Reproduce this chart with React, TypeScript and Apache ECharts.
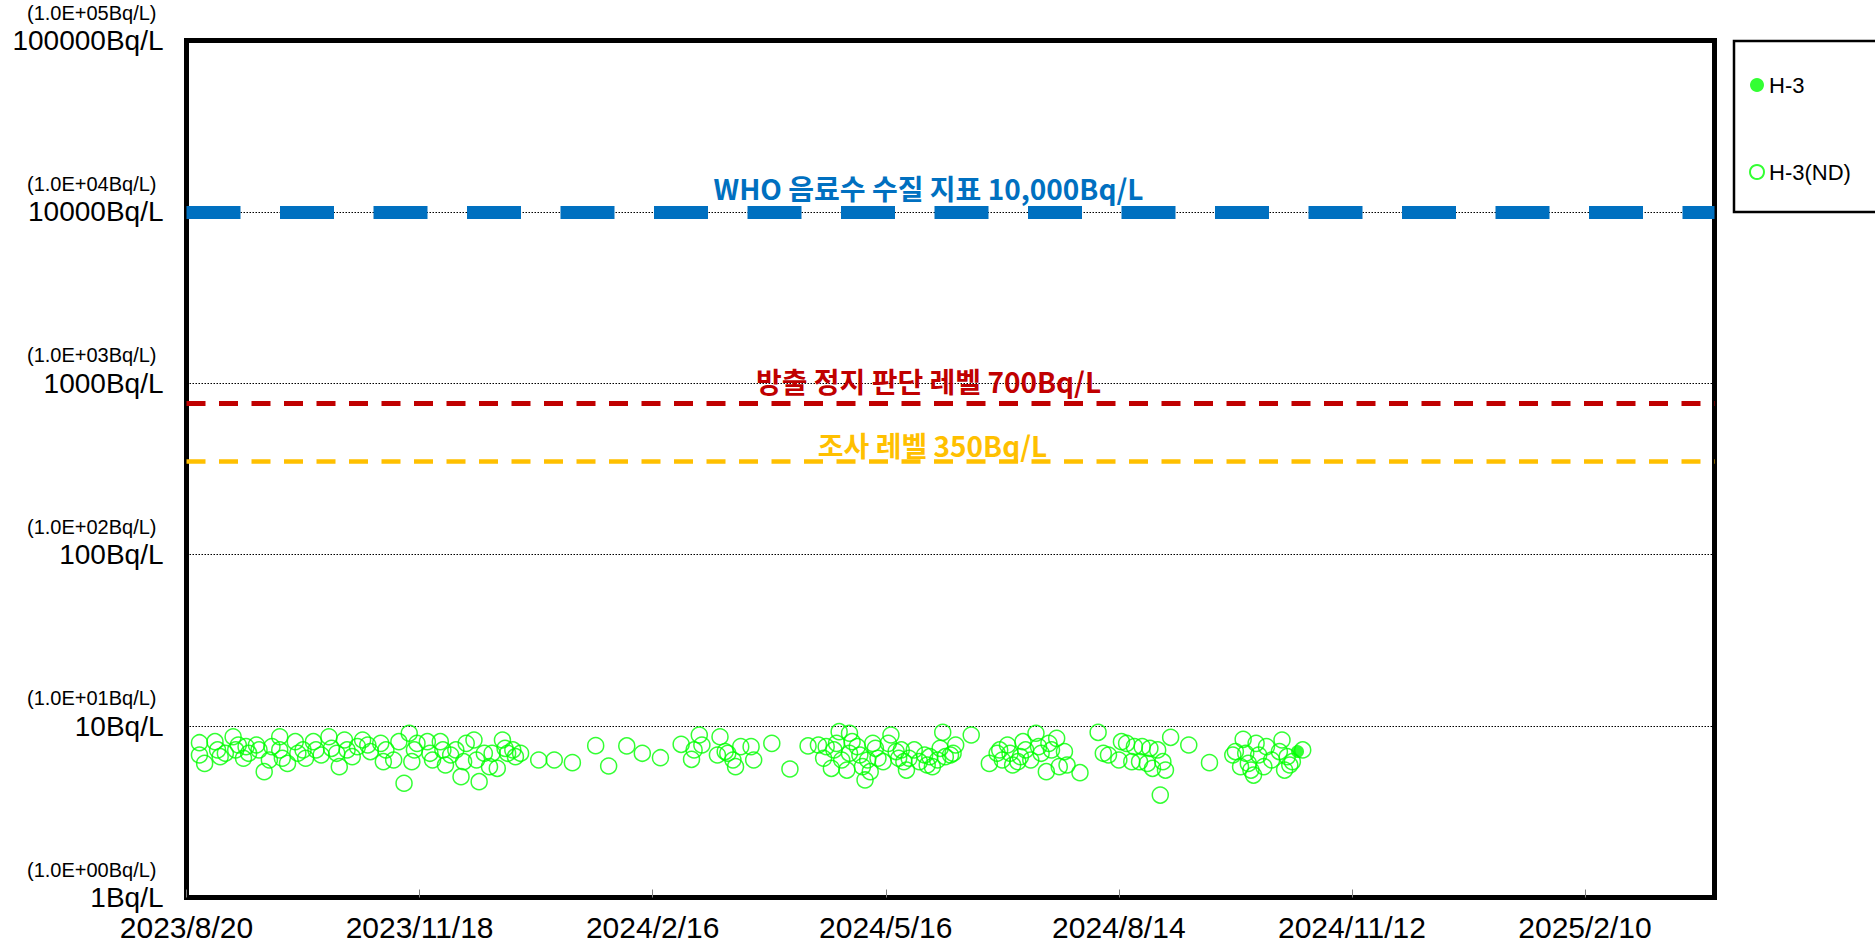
import React, { useEffect, useRef } from 'react';
import * as echarts from 'echarts';

// ---------- data ----------
const START_DATE = '2023-08-20';
const X_MAX_DAYS = 590;
const X_INTERVAL_DAYS = 90;

const yTickValues = [1, 10, 100, 1000, 10000, 100000];
const yTickMain = ['1Bq/L', '10Bq/L', '100Bq/L', '1000Bq/L', '10000Bq/L', '100000Bq/L'];
const yTickExp = ['(1.0E+00Bq/L)', '(1.0E+01Bq/L)', '(1.0E+02Bq/L)', '(1.0E+03Bq/L)', '(1.0E+04Bq/L)', '(1.0E+05Bq/L)'];

const seriesNames = ['H-3', 'H-3(ND)'];

// detected value (filled marker)
const h3Dates = ['2024-10-22'];
const h3Values = [7.1];

// not detected (hollow markers, detection limit)
const ndDates = [
  '2023-08-25', '2023-08-25', '2023-08-27', '2023-08-31', '2023-09-01', '2023-09-02', '2023-09-04', '2023-09-07',
  '2023-09-08', '2023-09-09', '2023-09-11', '2023-09-12', '2023-09-13', '2023-09-16', '2023-09-17', '2023-09-19',
  '2023-09-21', '2023-09-22', '2023-09-25', '2023-09-25', '2023-09-26', '2023-09-28', '2023-10-01', '2023-10-02',
  '2023-10-04', '2023-10-05', '2023-10-08', '2023-10-09', '2023-10-11', '2023-10-14', '2023-10-15', '2023-10-17',
  '2023-10-18', '2023-10-20', '2023-10-21', '2023-10-23', '2023-10-25', '2023-10-27', '2023-10-29', '2023-10-30',
  '2023-11-03', '2023-11-04', '2023-11-05', '2023-11-08', '2023-11-10', '2023-11-12', '2023-11-14', '2023-11-16',
  '2023-11-15', '2023-11-17', '2023-11-21', '2023-11-22', '2023-11-23', '2023-11-26', '2023-11-27', '2023-11-28',
  '2023-11-30', '2023-12-02', '2023-12-04', '2023-12-05', '2023-12-06', '2023-12-09', '2023-12-10', '2023-12-11',
  '2023-12-13', '2023-12-15', '2023-12-16', '2023-12-18', '2023-12-20', '2023-12-21', '2023-12-22', '2023-12-24',
  '2023-12-25', '2023-12-27', '2024-01-03', '2024-01-09', '2024-01-16',
  '2024-01-25', '2024-01-30', '2024-02-06', '2024-02-12', '2024-02-19', '2024-02-27', '2024-03-02', '2024-03-05',
  '2024-03-03', '2024-03-06', '2024-03-13', '2024-03-12', '2024-03-15', '2024-03-16', '2024-03-18', '2024-03-19',
  '2024-03-21', '2024-03-25', '2024-03-26', '2024-04-02', '2024-04-09', '2024-04-16', '2024-04-20', '2024-04-22',
  '2024-04-23', '2024-04-25', '2024-04-26', '2024-04-28', '2024-04-27', '2024-04-29', '2024-05-01', '2024-05-02',
  '2024-05-02', '2024-05-03', '2024-05-05', '2024-05-06', '2024-05-07', '2024-05-08', '2024-05-09', '2024-05-10',
  '2024-05-11', '2024-05-12', '2024-05-13', '2024-05-15', '2024-05-18', '2024-05-17', '2024-05-20', '2024-05-21',
  '2024-05-22', '2024-05-23', '2024-05-24', '2024-05-25', '2024-05-27', '2024-05-29', '2024-05-31', '2024-06-01',
  '2024-06-02', '2024-06-03', '2024-06-05', '2024-06-06', '2024-06-07', '2024-06-08', '2024-06-10', '2024-06-11',
  '2024-06-12', '2024-06-18', '2024-06-25', '2024-06-28',
  '2024-06-29', '2024-06-30', '2024-07-02', '2024-07-03', '2024-07-04', '2024-07-06', '2024-07-07', '2024-07-08',
  '2024-07-09', '2024-07-11', '2024-07-13', '2024-07-14', '2024-07-15', '2024-07-17', '2024-07-18', '2024-07-19',
  '2024-07-21', '2024-07-22', '2024-07-24', '2024-07-25', '2024-07-30', '2024-08-06', '2024-08-08', '2024-08-10',
  '2024-08-14', '2024-08-15', '2024-08-17', '2024-08-19', '2024-08-20', '2024-08-22', '2024-08-23', '2024-08-25',
  '2024-08-26', '2024-08-27', '2024-08-29', '2024-08-30', '2024-08-31', '2024-09-01', '2024-09-03', '2024-09-10',
  '2024-09-18', '2024-09-27', '2024-09-28', '2024-09-30', '2024-10-01', '2024-10-02', '2024-10-03', '2024-10-04',
  '2024-10-05', '2024-10-06', '2024-10-07', '2024-10-09', '2024-10-10', '2024-10-12', '2024-10-15', '2024-10-16',
  '2024-10-17', '2024-10-18', '2024-10-19', '2024-10-20', '2024-10-24',
];
const ndValues = [
  8.0, 6.78, 6.06, 8.11, 7.26, 6.63, 6.94, 8.67,
  7.26, 7.76, 6.49, 7.59, 6.94, 7.76, 7.26, 5.42,
  6.34, 7.59, 8.67, 7.26, 6.49, 6.06, 8.11, 6.94,
  7.26, 6.49, 8.11, 7.26, 6.78, 8.67, 7.42, 6.94,
  5.8, 8.3, 7.26, 6.63, 7.59, 8.3, 7.76, 7.1,
  7.93, 6.2, 7.26, 6.34, 8.11, 4.64, 9.08, 7.26,
  6.2, 7.93, 8.11, 6.94, 6.34, 8.11, 7.26, 5.93,
  6.78, 7.26, 5.07, 6.2, 7.93, 8.3, 6.34, 4.74,
  6.94, 5.8, 6.94, 5.67, 8.3, 7.42, 6.94, 7.26,
  6.63, 6.94, 6.34, 6.34, 6.12,
  7.69, 5.85, 7.66, 6.94, 6.54, 7.83, 6.4, 8.87,
  7.26, 7.76, 8.67, 6.78, 7.1, 6.94, 6.34, 5.8,
  7.59, 7.59, 6.34, 7.93, 5.62, 7.66, 7.76, 6.49,
  7.59, 5.67, 7.26, 9.28, 7.93, 6.34, 5.54, 9.08,
  6.94, 8.11, 7.59, 6.78, 5.8, 4.85, 6.34, 5.42,
  7.93, 7.42, 6.49, 6.2, 8.87, 7.93, 7.1, 6.49,
  7.26, 6.2, 5.54, 6.49, 7.26, 6.2, 6.78, 5.93,
  6.63, 5.8, 6.34, 7.42, 9.2, 6.63, 6.78, 6.94,
  7.76, 8.87, 6.06, 6.94,
  7.26, 6.34, 7.76, 6.94, 5.93, 6.2, 6.63, 8.11,
  7.26, 6.34, 9.08, 7.59, 6.94, 5.42, 7.93, 7.26,
  8.48, 5.8, 7.1, 5.93, 5.35, 9.2, 6.94, 6.78,
  6.34, 8.11, 7.93, 6.2, 7.59, 6.2, 7.59, 6.06,
  7.42, 5.67, 7.26, 3.96, 6.2, 5.54, 8.6, 7.76,
  6.12, 6.78, 7.1, 5.8, 8.37, 6.94, 6.06, 5.54,
  5.18, 7.93, 6.78, 5.8, 7.59, 6.34, 7.1, 8.3,
  5.54, 6.63, 5.93, 6.2, 7.26,
];

// reference levels
const refValues = [10000, 760, 350];
const refLabels = ['WHO 음료수 수질 지표 10,000Bq/L', '방출 정지 판단 레벨 700Bq/L', '조사 레벨 350Bq/L'];
const refColors = ['#0070C0', '#C00000', '#FFC000'];

// ---------- helpers ----------
const DAY_MS = 86400000;
const parseUTC = (s: string) => {
  const [y, m, d] = s.split('-').map(Number);
  return Date.UTC(y, m - 1, d);
};
const startMs = parseUTC(START_DATE);
const toDay = (s: string) => Math.round((parseUTC(s) - startMs) / DAY_MS);
const dayLabel = (v: number) => {
  const dt = new Date(startMs + v * DAY_MS);
  return `${dt.getUTCFullYear()}/${dt.getUTCMonth() + 1}/${dt.getUTCDate()}`;
};

const GREEN = '#00FF00';
const FONT = '"Liberation Sans", Arial, sans-serif';
const KFONT = '"Noto Sans CJK KR", sans-serif';

export default function App() {
  const ref = useRef<HTMLDivElement>(null);

  useEffect(() => {
    if (!ref.current) return;
    const chart = echarts.init(ref.current, undefined, { renderer: 'svg' });

    const refStyles = [
      { width: 13, type: [54, 39.5], distance: 9, pad: 44 },
      { width: 5, type: [19, 13.5], distance: 8, pad: 44 },
      { width: 4.5, type: [19, 13.5], distance: 1, pad: 36 },
    ];

    const option: any = {
      animation: false,
      backgroundColor: '#fff',
      grid: {
        left: 186.5,
        right: 160.5,
        top: 40.5,
        bottom: 50.5,
        show: true,
        borderColor: '#000',
        borderWidth: 5,
        backgroundColor: 'transparent',
        containLabel: false,
      },
      legend: {
        data: seriesNames,
        orient: 'vertical',
        left: 1749,
        top: 74,
        itemWidth: 14,
        itemHeight: 14,
        itemGap: 65,
        padding: 0,
        selectedMode: false,
        textStyle: { fontSize: 22, color: '#000', fontFamily: FONT, lineHeight: 22 },
      },
      graphic: [
        {
          type: 'rect',
          shape: { x: 1734, y: 41, width: 200, height: 171 },
          style: { fill: 'none', stroke: '#000', lineWidth: 2.5 },
          silent: true,
        },
      ],
      xAxis: {
        type: 'value',
        min: 0,
        max: X_MAX_DAYS,
        interval: X_INTERVAL_DAYS,
        axisLine: { show: false },
        axisTick: { show: true, inside: true, length: 8, lineStyle: { color: '#808080', width: 1 } },
        splitLine: { show: false },
        axisLabel: {
          showMaxLabel: false,
          margin: 15,
          fontSize: 30,
          color: '#000',
          fontFamily: FONT,
          formatter: (v: number) => (v % X_INTERVAL_DAYS === 0 ? dayLabel(v) : ''),
        },
      },
      yAxis: {
        type: 'log',
        logBase: 10,
        min: yTickValues[0],
        max: yTickValues[yTickValues.length - 1],
        axisLine: { show: false },
        axisTick: { show: false },
        splitLine: { show: true, lineStyle: { color: '#000', width: 1, type: [1.5, 1.5] } },
        axisLabel: {
          margin: 23,
          padding: [0, 0, 24, 0],
          formatter: (v: number) => {
            const i = yTickValues.findIndex((t) => Math.abs(t - v) / t < 1e-6);
            if (i < 0) return '';
            return `{s|${yTickExp[i]}}\n{b|${yTickMain[i]}}`;
          },
          rich: {
            s: { fontSize: 20, lineHeight: 24, color: '#000', fontFamily: FONT, align: 'right', padding: [0, 7, 0, 0] },
            b: { fontSize: 28, lineHeight: 32, color: '#000', fontFamily: FONT, align: 'right' },
          },
        },
      },
      series: [
        {
          name: seriesNames[0],
          type: 'scatter',
          symbol: 'circle',
          symbolSize: 13,
          itemStyle: { color: GREEN },
          data: h3Dates.map((d, i) => [toDay(d), h3Values[i]]),
          z: 3,
        },
        {
          name: seriesNames[1],
          type: 'scatter',
          symbol: 'circle',
          symbolSize: 16,
          itemStyle: { color: 'rgba(0,0,0,0)', borderColor: GREEN, borderWidth: 1.5 },
          data: ndDates.map((d, i) => [toDay(d), ndValues[i]]),
          z: 2,
          markLine: {
            silent: true,
            symbol: ['none', 'none'],
            animation: false,
            data: refValues.map((v, i) => ({
              yAxis: v,
              lineStyle: { color: refColors[i], width: refStyles[i].width, type: refStyles[i].type, cap: 'butt', opacity: 1 },
              label: {
                show: true,
                position: 'insideMiddleTop',
                distance: refStyles[i].distance,
                formatter: refLabels[i],
                color: refColors[i],
                fontSize: 28,
                lineHeight: 30,
                fontWeight: 'bold',
                fontFamily: KFONT,
                padding: [0, refStyles[i].pad, 0, 0],
              },
              emphasis: { disabled: true },
            })),
          },
        },
      ],
    };

    chart.setOption(option);
    return () => chart.dispose();
  }, []);

  return (
    <div
      ref={ref}
      style={{ position: 'absolute', left: 0, top: 0, width: 1875, height: 948, background: '#fff' }}
    />
  );
}
